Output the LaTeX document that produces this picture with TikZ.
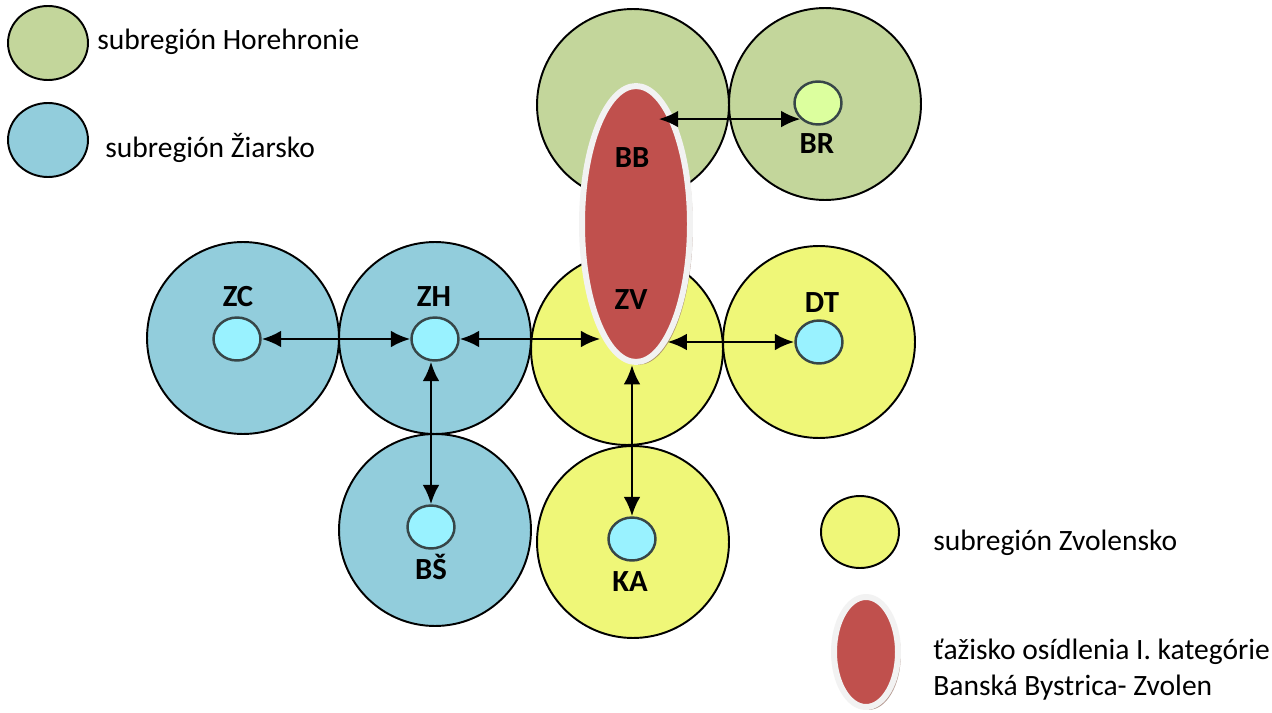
\documentclass[tikz,border=0pt]{standalone}
\usepackage{fontspec}
\setmainfont{Carlito}
\usepackage{tikz}
\usetikzlibrary{arrows.meta,shapes.geometric,shadows}

\definecolor{hrongreen}{RGB}{195,214,155}
\definecolor{ziarblue}{RGB}{146,205,220}
\definecolor{zvolyellow}{RGB}{239,247,120}
\definecolor{corered}{RGB}{192,80,77}
\definecolor{corerim}{RGB}{242,242,242}
\definecolor{towncyan}{RGB}{153,242,255}
\definecolor{townlime}{RGB}{220,255,158}
\definecolor{townedge}{RGB}{55,70,72}
\definecolor{coreshadow}{RGB}{150,112,100}

\begin{document}
\begin{tikzpicture}[x=0.02cm,y=-0.02cm,
    region/.style={circle,draw=black,line width=1.1pt,minimum size=3.84cm,inner sep=0pt},
    town/.style={ellipse,draw=townedge,line width=1.4pt,fill=towncyan,minimum width=0.94cm,minimum height=0.86cm,inner sep=0pt},
    core/.style={ellipse,fill=corered,draw=corerim,line width=3.4pt,inner sep=0pt,
        drop shadow={shadow xshift=1.6pt,shadow yshift=-1.6pt,fill=coreshadow,opacity=0.7}},
    abbr/.style={font=\fontsize{17.5}{20}\selectfont\bfseries,inner sep=0pt},
    legdot/.style={ellipse,draw=black,line width=1.1pt,minimum width=1.6cm,minimum height=1.48cm,inner sep=0pt},
    legtext/.style={font=\fontsize{16.8}{20.4}\selectfont,anchor=west,inner sep=0pt,align=left},
    link/.style={line width=1.5pt,arrows={Latex[length=11pt,width=9.5pt]-Latex[length=11pt,width=9.5pt]}}]

    \useasboundingbox[fill=white] (0,0) rectangle (1272,713);

    % subregions
    \node[region,fill=hrongreen] (bbreg) at (633,105) {};
    \node[region,fill=hrongreen] (brreg) at (825,104) {};
    \node[region,fill=ziarblue] (zcreg) at (243,338) {};
    \node[region,fill=ziarblue] (zhreg) at (435,338) {};
    \node[region,fill=ziarblue] (bsreg) at (435,530) {};
    \node[region,fill=zvolyellow] (zvreg) at (627,349) {};
    \node[region,fill=zvolyellow] (dtreg) at (819,342) {};
    \node[region,fill=zvolyellow] (kareg) at (633,542) {};

    % centre Banska Bystrica - Zvolen
    \node[core,minimum width=2.16cm,minimum height=5.52cm] (core) at (636,224) {};

    \node[town] (zcdot) at (237,339) {};
    \node[town] (zhdot) at (435,339) {};
    \node[town] (dtdot) at (819,342) {};
    \node[town] (bsdot) at (431,527) {};
    \node[town] (kadot) at (632,539) {};
    \node[town,fill=townlime] (brdot) at (818,103) {};

    \node[abbr] (bblbl) at (632,158) {BB};
    \node[abbr] (zvlbl) at (631,300) {ZV};
    \node[abbr] (brlbl) at (817,144) {BR};
    \node[abbr] (zclbl) at (238,297) {ZC};
    \node[abbr] (zhlbl) at (434,297) {ZH};
    \node[abbr] (dtlbl) at (822,303) {DT};
    \node[abbr] (bslbl) at (431,567) {BŠ};
    \node[abbr] (kalbl) at (630,582) {KA};

    % links
    \draw[link] (core.80 |- brdot.south west) -- (brdot.south west);
    \draw[link] (zcdot) -- (zhdot);
    \draw[link] (zhdot.east) -- (zhdot.east -| core.-108);
    \draw[link] (core.-75 |- dtdot.west) -- (dtdot.west);
    \draw[link] (zhdot.south -| bsdot.north) -- (bsdot.north);
    \draw[link] (kadot.north |- core.south) -- (kadot.north);

    % legend
    \node[legdot,fill=hrongreen] (leghron) at (48,43) {};
    \node[legtext] (leghrontxt) at (97,42) {subregión Horehronie};
    \node[legdot,fill=ziarblue] (legziar) at (48,140) {};
    \node[legtext] (legziartxt) at (105,148) {subregión Žiarsko};
    \node[legdot,fill=zvolyellow,minimum width=1.56cm,minimum height=1.44cm] (legzvol) at (860,532) {};
    \node[legtext] (legzvoltxt) at (933,543) {subregión Zvolensko};
    \node[core,minimum width=1.28cm,minimum height=2.2cm] (legcore) at (866,652) {};
    \node[legtext] (legcoretxt) at (933,670) {ťažisko osídlenia I. kategórie\\Banská Bystrica- Zvolen};

\end{tikzpicture}
\end{document}
